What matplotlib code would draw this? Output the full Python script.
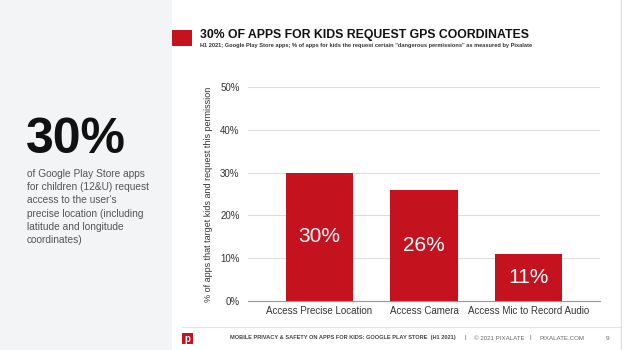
import matplotlib.pyplot as plt
from matplotlib.patches import Rectangle

categories = ['Access Precise Location', 'Access Camera', 'Access Mic to Record Audio']
values = [30, 26, 11]
yticks = [0, 10, 20, 30, 40, 50]

red = '#c4121f'
plt.rcParams['font.family'] = ['Liberation Sans', 'DejaVu Sans']

fig = plt.figure(figsize=(6.24, 3.5), dpi=100)
fig.patch.set_facecolor('white')

# left grey panel
fig.patches.append(Rectangle((0, 0), 172/624, 1, transform=fig.transFigure,
                             facecolor='#f2f4f5', edgecolor='none', zorder=0))
# title marker
fig.patches.append(Rectangle((172/624, 1-46/350), 20/624, 16/350, transform=fig.transFigure,
                             facecolor=red, edgecolor='none'))
fig.text(200/624, 1-35/350, '30% OF APPS FOR KIDS REQUEST GPS COORDINATES',
         fontsize=8.8, fontweight='bold', va='center', ha='left', color='#111111')
fig.text(200/624, 1-45.5/350,
         'H1 2021; Google Play Store apps; % of apps for kids the request certain "dangerous permissions" as measured by Pixalate',
         fontsize=4.1, fontweight='bold', va='center', ha='left', color='#333333')

# left big number and text
fig.text(26/624, 1-140/350, '30%', fontsize=36, fontweight='bold',
         va='center', ha='left', color='#111111')
fig.text(27/624, 1-169/350,
         "of Google Play Store apps\nfor children (12&U) request\naccess to the user's\nprecise location (including\nlatitude and longitude\ncoordinates)",
         fontsize=7.3, va='top', ha='left', color='#555555', linespacing=1.4)

ax = fig.add_axes([248/624, 1-301/350, 352/624, 214/350])
x = range(len(categories))
bars = ax.bar(x, values, width=0.64, color=red, zorder=3)
for b, v in zip(bars, values):
    ax.text(b.get_x() + b.get_width()/2, v/2, f'{v}%', ha='center', va='center',
            color='white', fontsize=15)

ax.set_xlim(-0.68, 2.68)
ax.set_ylim(0, 50)
ax.set_yticks(yticks)
ax.set_yticklabels([f'{t}%' for t in yticks])
ax.set_xticks(list(x))
ax.set_xticklabels(categories)
ax.grid(axis='y', color='#dddddd', linewidth=0.8, zorder=0)
for s in ['top', 'right', 'left']:
    ax.spines[s].set_visible(False)
ax.spines['bottom'].set_color('#999999')
ax.tick_params(axis='both', length=0, labelsize=7, colors='#333333')
ax.tick_params(axis='y', pad=6)
ax.set_ylabel('% of apps that target kids and request this permission', fontsize=6.5,
              color='#333333', labelpad=5)

# footer
fig.add_artist(plt.Line2D([182/624, 620/624], [1-327/350, 1-327/350], color='#e3e3e3',
                          linewidth=0.8, transform=fig.transFigure))
fig.add_artist(plt.Line2D([621/624, 621/624], [0, 1], color='#dddddd',
                          linewidth=0.8, transform=fig.transFigure))
fig.patches.append(Rectangle((182/624, 1-344/350), 11/624, 11/350, transform=fig.transFigure,
                             facecolor=red, edgecolor='none'))
fig.text(187.5/624, 1-338.5/350, 'p', fontsize=7, fontweight='bold', color='white',
         ha='center', va='center')
fig.text(230/624, 1-338/350,
         'MOBILE PRIVACY & SAFETY ON APPS FOR KIDS: GOOGLE PLAY STORE  (H1 2021)',
         fontsize=4.05, fontweight='bold', color='#444444', ha='left', va='center')
fig.text(465/624, 1-338/350, '|', fontsize=4.4, color='#666666', ha='center', va='center')
fig.text(474/624, 1-338/350, '\u00a9 2021 PIXALATE', fontsize=4.4, color='#666666',
         ha='left', va='center')
fig.text(530/624, 1-338/350, '|', fontsize=4.4, color='#666666', ha='center', va='center')
fig.text(540/624, 1-338/350, 'PIXALATE.COM', fontsize=4.4, color='#666666',
         ha='left', va='center')
fig.text(608/624, 1-338/350, '9', fontsize=4.6, color='#666666', ha='center', va='center')

fig.savefig('out.png', dpi=100)
